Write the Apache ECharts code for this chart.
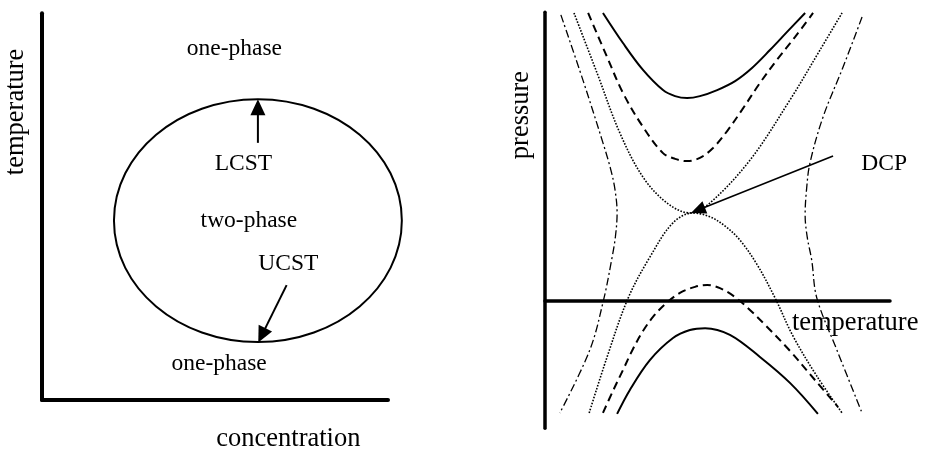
<!DOCTYPE html>
<html>
<head>
<meta charset="utf-8">
<script src="https://cdn.jsdelivr.net/npm/echarts@6/dist/echarts.min.js"></script>
<style>
  html, body { margin: 0; padding: 0; background: #fff; }
  #chart { width: 925px; height: 450px; }
</style>
</head>
<body>
<div id="chart"></div>
<script>
// ---- Left panel: concentration / temperature, closed-loop two-phase region ----
// ellipse: centre concentration, centre temperature, half-width, half-height
const loopEllipse = [62.4, 46.4, 41.6, 31.4];
// arrows: from (x, y) to tip (x, y)
const leftArrows = [
  [62.4, 66.5, 62.4, 77.8],   // LCST
  [70.7, 29.7, 62.5, 14.9]    // UCST
];
const leftLabels = [
  ['one-phase', 55.6, 90.8],
  ['LCST', 58.2, 61.1],
  ['two-phase', 59.8, 46.3],
  ['UCST', 71.2, 35.2],
  ['one-phase', 51.2, 9.4]
];
const leftTitles = [
  ['temperature', -7.4, 74.5, 90],
  ['concentration', 71.2, -10.2, 0]
];

// ---- Right panel: pressure / temperature around the double critical point ----
const solidUpper = [[16.8, 89.8], [22.6, 80.4], [28.4, 72.0], [34.2, 65.7], [37.7, 63.8], [41.2, 63.2], [44.9, 63.8], [49.9, 65.7], [55.1, 68.5], [60.0, 72.6], [65.2, 78.2], [70.1, 83.8], [75.4, 89.8]];
const dashedUpper = [[12.5, 89.8], [18.0, 76.0], [22.6, 64.8], [28.4, 54.2], [34.2, 46.0], [37.7, 44.2], [41.2, 43.5], [44.9, 44.5], [48.7, 47.6], [52.8, 52.9], [57.1, 59.5], [62.3, 67.9], [67.2, 75.1], [72.5, 82.3], [77.7, 89.8]];
const dottedUpper = [[8.4, 89.8], [15.1, 71.0], [21.7, 52.3], [28.4, 38.5], [35.4, 30.4], [42.0, 27.3], [47.8, 30.4], [59.4, 43.8], [71.0, 62.6], [79.7, 78.2], [86.1, 89.8]];
const dottedLower = [[12.8, -35.2], [18.0, -17.7], [24.1, 0.7], [30.4, 13.5], [37.1, 24.2], [42.9, 27.3], [47.8, 26.1], [52.2, 23.2], [56.5, 18.8], [61.4, 11.3], [66.7, 0.7], [71.9, -11.2], [78.8, -23.7], [86.1, -35.2]];
const dashedLower = [[16.8, -35.2], [19.7, -28.3], [22.6, -21.8], [25.5, -15.2], [28.4, -9.6], [31.3, -5.2], [34.8, -1.2], [39.1, 2.3], [43.5, 4.2], [47.0, 4.8], [50.7, 3.8], [55.1, 1.0], [59.4, -3.0], [63.8, -7.7], [71.0, -15.8], [78.0, -24.6], [84.9, -33.3]];
const solidLower = [[20.9, -35.5], [24.6, -28.0], [30.4, -18.7], [37.1, -11.8], [42.0, -9.3], [46.4, -8.7], [53.6, -10.8], [62.3, -17.7], [71.0, -25.8], [79.1, -35.5]];
const dashDotLeft = [[4.6, 89.2], [11.0, 68.8], [16.8, 49.2], [19.1, 40.7], [20.3, 34.5], [20.9, 27.3], [20.4, 19.8], [19.3, 12.6], [17.1, 0.7], [13.0, -15.5], [4.3, -35.2]];
const dashDotRight = [[91.9, 88.5], [86.4, 72.9], [80.6, 57.3], [76.8, 42.9], [75.8, 34.5], [75.4, 26.7], [76.0, 19.8], [77.3, 12.6], [78.8, 0.7], [84.6, -15.5], [91.9, -35.2]];
const dcpArrow = [[83.5, 45.1, 42.3, 27.3]];
const rightLabels = [['DCP', 98.3, 42.7]];
const rightTitles = [
  ['pressure', -6.8, 57.9, 90],
  ['temperature', 89.9, -7.1, 0]
];

const FONT = 'Liberation Serif';
const INK = '#000';

function arrowRenderer(lineWidth, headLen, headHalf) {
  return function (params, api) {
    const a = api.coord([api.value(0), api.value(1)]);
    const b = api.coord([api.value(2), api.value(3)]);
    const dx = b[0] - a[0], dy = b[1] - a[1];
    const len = Math.hypot(dx, dy);
    const ux = dx / len, uy = dy / len;
    const bx = b[0] - ux * headLen, by = b[1] - uy * headLen;
    return {
      type: 'group',
      children: [
        { type: 'line', shape: { x1: a[0], y1: a[1], x2: bx + ux * 2, y2: by + uy * 2 },
          style: { stroke: INK, lineWidth: lineWidth } },
        { type: 'polygon',
          shape: { points: [[b[0], b[1]], [bx - uy * headHalf, by + ux * headHalf], [bx + uy * headHalf, by - ux * headHalf]] },
          style: { fill: INK } }
      ]
    };
  };
}

function textSeries(list, axisIndex, size) {
  return {
    type: 'scatter',
    xAxisIndex: axisIndex, yAxisIndex: axisIndex,
    symbolSize: 1,
    itemStyle: { color: 'rgba(0,0,0,0)' },
    clip: false,
    silent: true,
    z: 5,
    label: { show: true, position: 'inside', formatter: '{b}', color: INK,
             textBorderWidth: 0, opacity: 1,
             fontFamily: FONT, fontSize: size },
    data: list.map(d => ({
      name: d[0], value: [d[1], d[2]],
      label: { rotate: d[3] || 0 }
    }))
  };
}

function curve(data, lineStyle) {
  return {
    type: 'line', xAxisIndex: 1, yAxisIndex: 1,
    data: data, smooth: 0.35, showSymbol: false, symbol: 'none', silent: true,
    lineStyle: Object.assign({ color: INK, cap: 'butt' }, lineStyle)
  };
}

const hiddenBits = {
  axisTick: { show: false }, axisLabel: { show: false }, splitLine: { show: false }
};

const option = {
  animation: false,
  backgroundColor: '#fff',
  grid: [
    { left: 42, top: 13.3, width: 346, height: 386.7, outerBoundsMode: 'none' },
    { left: 545, top: 12.3, width: 345, height: 416, outerBoundsMode: 'none' }
  ],
  xAxis: [
    Object.assign({ type: 'value', gridIndex: 0, min: 0, max: 100,
      axisLine: { show: true, onZero: false, lineStyle: { color: INK, width: 4 } } }, hiddenBits),
    Object.assign({ type: 'value', gridIndex: 1, min: 0, max: 100,
      axisLine: { show: true, onZero: true, lineStyle: { color: INK, width: 3.5 } } }, hiddenBits)
  ],
  yAxis: [
    Object.assign({ type: 'value', gridIndex: 0, min: 0, max: 100,
      axisLine: { show: true, onZero: false, lineStyle: { color: INK, width: 4 } } }, hiddenBits),
    Object.assign({ type: 'value', gridIndex: 1, min: -40, max: 90,
      axisLine: { show: true, onZero: false, lineStyle: { color: INK, width: 3.5 } } }, hiddenBits)
  ],
  series: [
    {
      type: 'custom', xAxisIndex: 0, yAxisIndex: 0, silent: true,
      encode: { x: 0, y: 1 },
      renderItem: function (params, api) {
        const c = api.coord([api.value(0), api.value(1)]);
        const s = api.size([api.value(2), api.value(3)]);
        return { type: 'ellipse', shape: { cx: c[0], cy: c[1], rx: s[0], ry: s[1] },
                 style: { fill: 'none', stroke: INK, lineWidth: 2 } };
      },
      data: [loopEllipse]
    },
    {
      type: 'custom', xAxisIndex: 0, yAxisIndex: 0, silent: true,
      encode: { x: [0, 2], y: [1, 3] },
      renderItem: arrowRenderer(2, 16, 7.5),
      data: leftArrows
    },
    textSeries(leftLabels, 0, 23.5),
    textSeries(leftTitles, 0, 26.5),

    curve(solidUpper, { width: 2, type: 'solid' }),
    curve(solidLower, { width: 2, type: 'solid' }),
    curve(dashedUpper, { width: 2, type: [8, 5] }),
    curve(dashedLower, { width: 2, type: [8, 5] }),
    curve(dottedUpper, { width: 1.6, type: [1.6, 1.5] }),
    curve(dottedLower, { width: 1.6, type: [1.6, 1.5] }),
    curve(dashDotLeft, { width: 1.3, type: [8, 3, 2, 3] }),
    curve(dashDotRight, { width: 1.3, type: [8, 3, 2, 3] }),
    {
      type: 'custom', xAxisIndex: 1, yAxisIndex: 1, silent: true,
      encode: { x: [0, 2], y: [1, 3] },
      renderItem: arrowRenderer(1.6, 15, 6.5),
      data: dcpArrow
    },
    textSeries(rightLabels, 1, 23.5),
    textSeries(rightTitles, 1, 26.5)
  ]
};

const chart = echarts.init(document.getElementById('chart'), null, { renderer: 'canvas' });
chart.setOption(option);
</script>
</body>
</html>
